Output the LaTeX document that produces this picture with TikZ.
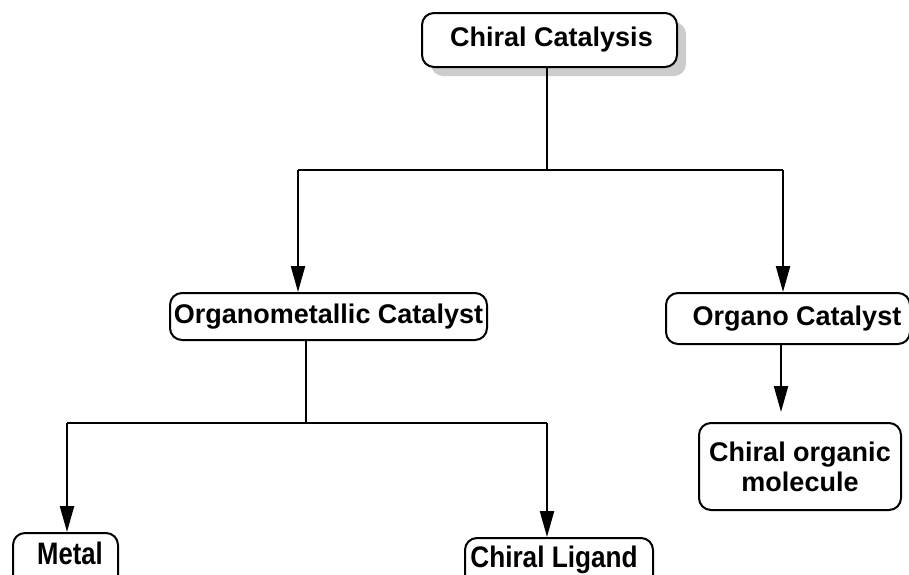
\documentclass[tikz,border=0pt]{standalone}
\usepackage{fontspec}
\setmainfont{Liberation Sans}
\usetikzlibrary{arrows.meta,shadows,calc}
\begin{document}
\begin{tikzpicture}[x=1pt,y=-1pt,
  box/.style={draw=black,line width=2pt,rounded corners=12pt,fill=white,
    font=\fontsize{27}{30}\selectfont\bfseries,align=center,inner sep=0pt},
  conn/.style={line width=2.2pt},
  arr/.style={line width=2.2pt,-{Triangle[length=26pt,width=14pt]}}]
\useasboundingbox (0,0) rectangle (909,574);
\clip (0,0) rectangle (909,574);
\node[box,minimum width=255pt,minimum height=54pt,
  drop shadow={shadow xshift=9pt,shadow yshift=-9pt,fill=gray!40,opacity=1}]
  (cc) at (549.5,40) {\hspace*{4pt}Chiral Catalysis};
\node[box,minimum width=317pt,minimum height=47pt] (om) at (328.5,316.5) {Organometallic Catalyst};
\node[box,minimum width=244pt,minimum height=51pt] (oc) at (788,318.5) {\hspace*{18pt}Organo Catalyst};
\node[box,minimum width=202pt,minimum height=87pt] (com) at (800,466.5) {Chiral organic\\molecule};
\node[box,anchor=north,minimum width=105pt,text height=19pt,text depth=30pt,inner ysep=12pt] (me) at (65.5,532) {\hspace*{9pt}\scalebox{0.95}[1.15]{Metal}};
\node[box,anchor=north,minimum width=188pt,text height=19pt,text depth=30pt,inner ysep=10pt] (cl) at (559,537) {\scalebox{0.97}[1.1]{Chiral Ligand}\hspace*{10pt}};
\coordinate (j1) at (547,170);
\coordinate (jl) at (298,170);
\coordinate (jr) at (783,170);
\draw[conn] (cc.south -| j1) -- (j1);
\draw[conn] (jl) -- (jr);
\draw[arr] (jl) -- (jl |- om.north);
\draw[arr] (jr) -- (jr |- oc.north);
\coordinate (j2) at (306,423);
\coordinate (jm) at (67,423);
\coordinate (jg) at (547,423);
\draw[conn] (om.south -| j2) -- (j2);
\draw[conn] (jm) -- (jg);
\draw[arr] (jm) -- (jm |- me.north);
\draw[arr] (jg) -- (jg |- cl.north);
\coordinate (jo) at (781,344);
\draw[arr,shorten >=10pt] (oc.south -| jo) -- (jo |- com.north);
\end{tikzpicture}
\end{document}
